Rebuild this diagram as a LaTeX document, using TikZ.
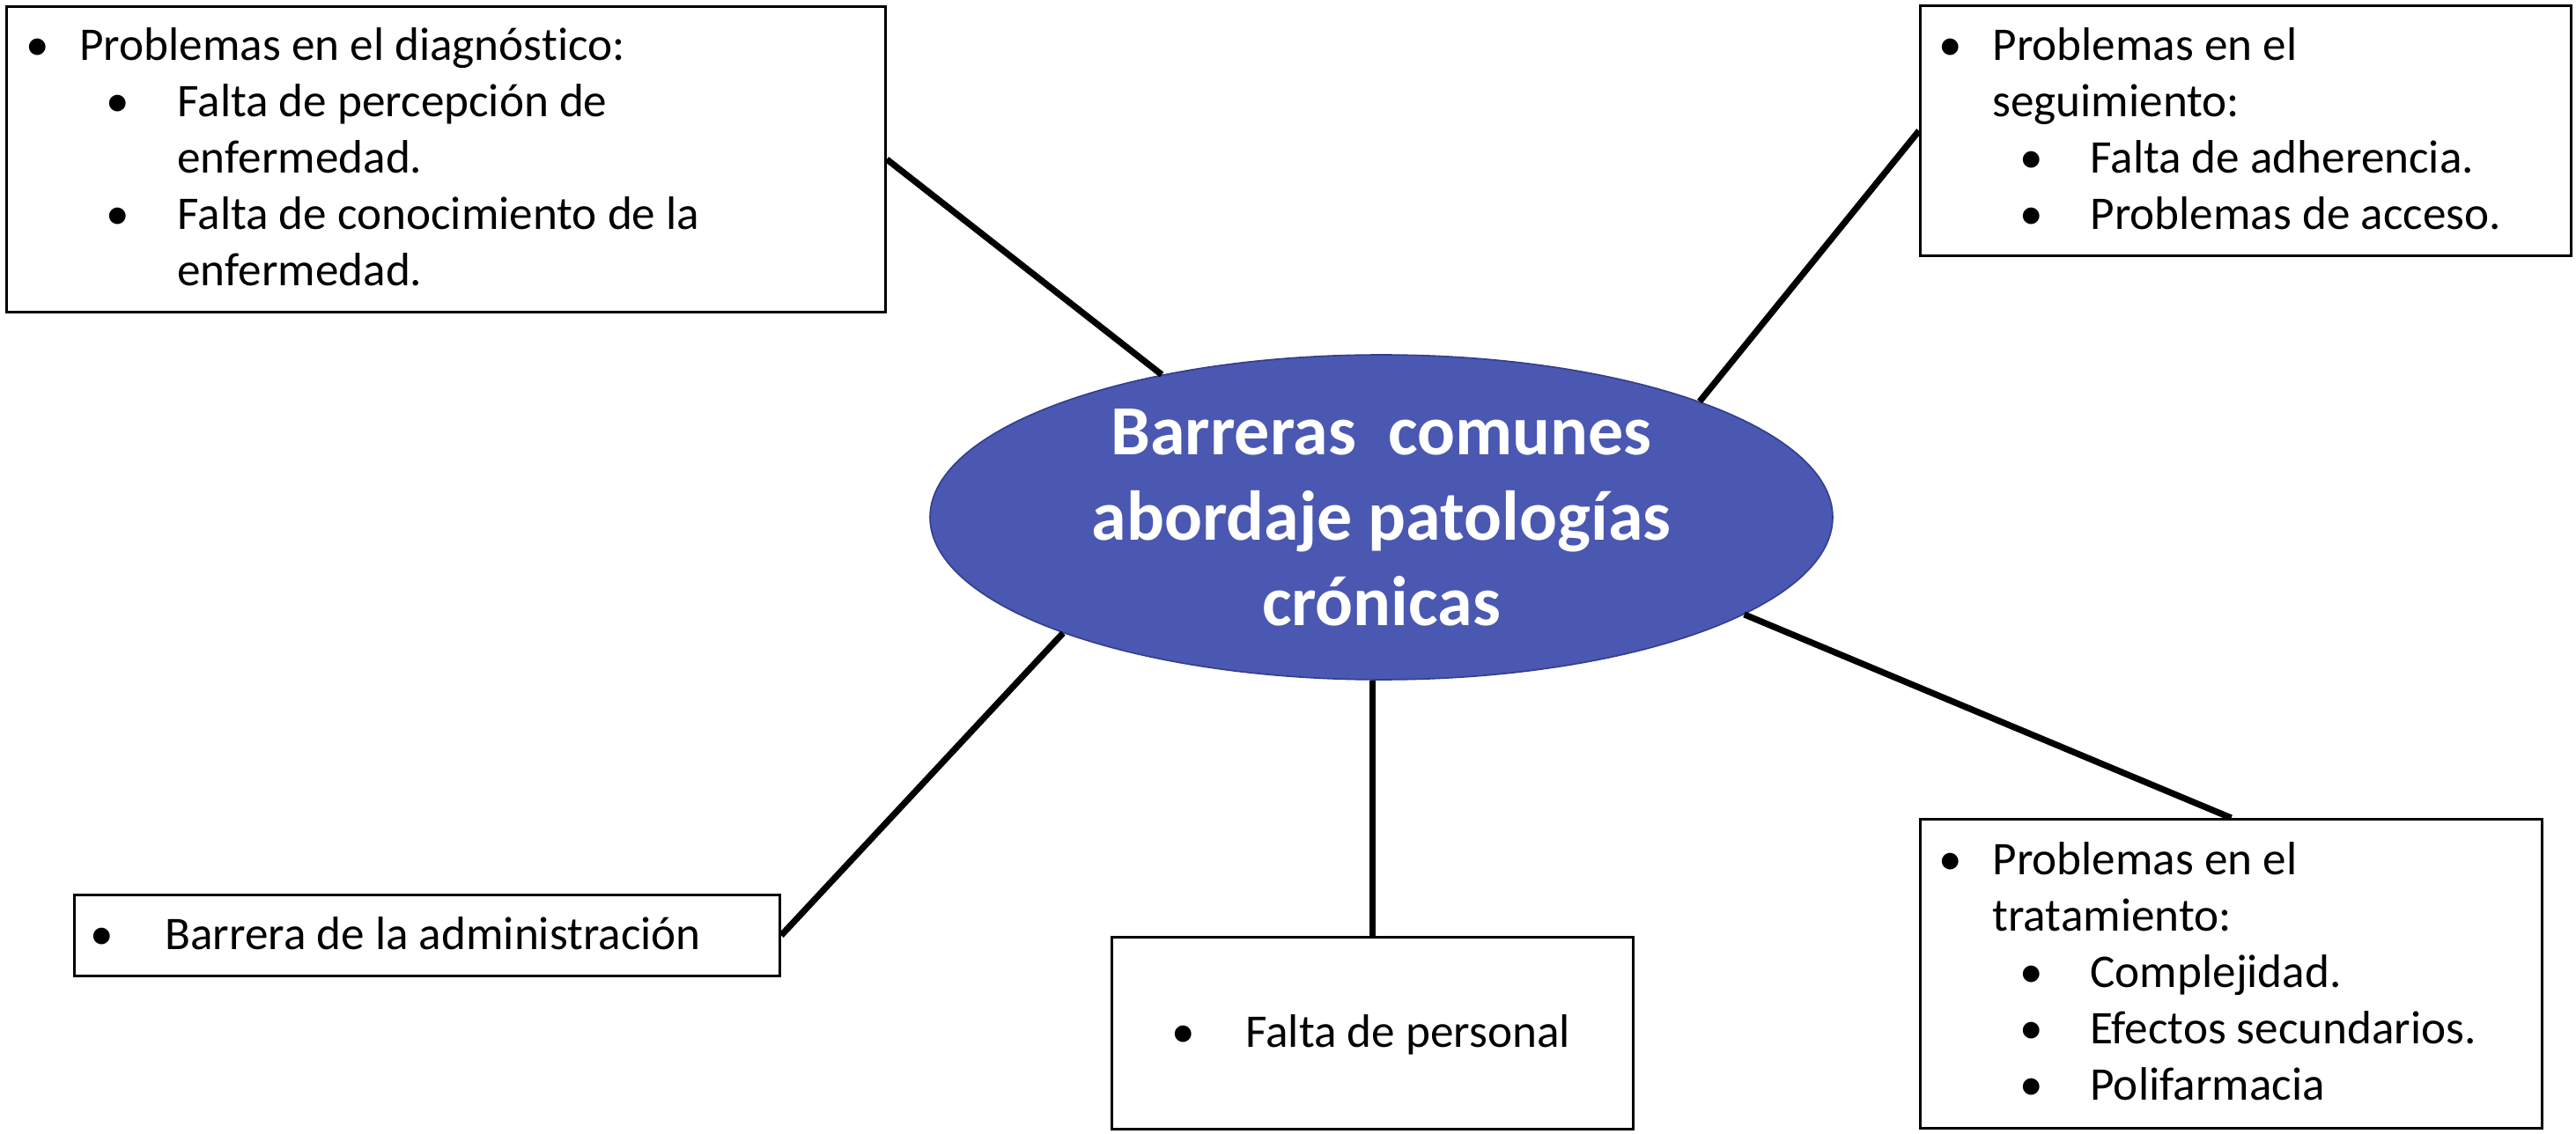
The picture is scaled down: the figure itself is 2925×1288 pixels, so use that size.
\documentclass[tikz,border=0pt]{standalone}
\usepackage{fontspec}
\setmainfont{Carlito}[Ligatures=NoCommon]
\usetikzlibrary{shapes.geometric}
\definecolor{ellfill}{RGB}{74,88,178}
\definecolor{elldraw}{RGB}{50,62,140}
\newcommand\Brow[3]{\par\noindent\rlap{\hspace*{#1}\makebox[0pt]{\textbullet}}\hspace*{#2}#3}
\newcommand\Trow[2]{\par\noindent\hspace*{#1}#2}
\newcommand\Fst[1]{\rule{0pt}{#1}}
\newcommand\Content[4]{\parbox[c][#2][t]{#1}{\fontsize{26.6pt}{32pt}\selectfont\baselineskip=32pt\parskip=0pt\noindent\Fst{#3}#4}}
\tikzset{
  boxnode/.style={draw, line width=1.5pt, rectangle, inner sep=0pt, fill=white, anchor=north west},
  conn/.style={line width=3.6pt, black},
  hub/.style={ellipse, draw=elldraw, line width=0.8pt, fill=ellfill, minimum width=512.5pt, minimum height=184.5pt, inner sep=0pt,
    text=white, font=\fontsize{40pt}{48.5pt}\selectfont\bfseries, align=center}
}
\begin{document}
\begin{tikzpicture}[x=0.5pt, y=-0.5pt]
\useasboundingbox (0,0) rectangle (2925,1288);
\fill[white] (0,0) rectangle (2925,1288);

\node[boxnode] (b1) at (6,6) {\Content{499pt}{173.5pt}{30.5pt}{%
  \rlap{\hspace*{17.5pt}\makebox[0pt]{\textbullet}}\hspace*{41.5pt}Problemas en el diagnóstico:%
  \Brow{63pt}{97pt}{Falta de percepción de}%
  \Trow{97pt}{enfermedad.}%
  \Brow{63pt}{97pt}{Falta de conocimiento de la}%
  \Trow{97pt}{enfermedad.}}};

\node[boxnode] (b2) at (2179,5) {\Content{369.5pt}{142pt}{31pt}{%
  \rlap{\hspace*{17pt}\makebox[0pt]{\textbullet}}\hspace*{41pt}Problemas en el%
  \Trow{41pt}{seguimiento:}%
  \Brow{63pt}{96.5pt}{Falta de adherencia.}%
  \Brow{63pt}{96.5pt}{Problemas de acceso.}}};

\node[boxnode] (b3) at (2179,929) {\Content{353pt}{175.5pt}{31.5pt}{%
  \rlap{\hspace*{17pt}\makebox[0pt]{\textbullet}}\hspace*{41pt}Problemas en el%
  \Trow{41pt}{tratamiento:}%
  \Brow{63pt}{96.5pt}{Complejidad.}%
  \Brow{63pt}{96.5pt}{Efectos secundarios.}%
  \Brow{63pt}{96.5pt}{Polifarmacia}}};

\node[boxnode] (b4) at (83,1015) {\Content{400.5pt}{46pt}{31pt}{%
  \rlap{\hspace*{15.5pt}\makebox[0pt]{\textbullet}}\hspace*{51.5pt}Barrera de la administración}};

\node[boxnode] (b5) at (1261,1063) {\Content{296pt}{109pt}{62.5pt}{%
  \rlap{\hspace*{40.5pt}\makebox[0pt]{\textbullet}}\hspace*{76pt}Falta de personal}};

\node[hub] (e) at (1568.5,587.5) {Barreras\ \ comunes\\abordaje patologías\\crónicas};

\draw[conn] (b1.east) -- (e.147);
\draw[conn] (b2.west) -- (e.20);
\draw[conn] (e.345) -- (b3.north);
\draw[conn] (b5.north) -- (b5.north |- e.south);
\draw[conn] (b4.east) -- (e.200);
\end{tikzpicture}
\end{document}
